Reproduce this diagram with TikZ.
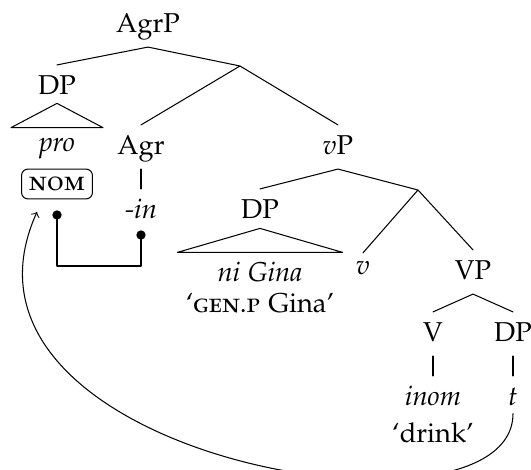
\documentclass[tikz,border=0pt]{standalone}
\usepackage[T1]{fontenc}
\usepackage[sc]{mathpazo}
\tikzset{lab/.style={inner sep=2.8pt, text height=8.5pt, text depth=2.5pt},
	gloss/.style={inner sep=0.5pt, text height=7.5pt, text depth=2.5pt},
	casebox/.style={draw, rounded corners=2.5pt, minimum width=27.3pt, minimum height=11.5pt, inner sep=0pt},
	link/.style={circle, fill, inner sep=0pt, minimum size=3.6pt}}
\begin{document}
\begin{tikzpicture}[x=0.385pt, y=-0.385pt, font=\fontsize{10.5}{12.6}\selectfont, line join=round, line cap=round, >=to]
	\useasboundingbox (0,0) rectangle (531,470);
	% upper part
	\node[lab] (agrp) at (148,25) {AgrP};
	\node[lab] (dpa) at (57,87) {DP};
	\coordinate (agrbar) at (240,66);
	\node[lab] (pro) at (57,144) {\textit{pro}};
	\node[casebox] (nom) at (57,184) {\textsc{nom}};
	\node[lab] (agr) at (141,147) {Agr};
	\node[lab] (in) at (141,211) {\textit{-in}};
	\node[link] (ldot) at (57,215) {};
	\node[link] (rdot) at (141,235) {};
	\coordinate (linkb) at (57,266);
	\node[lab] (vp) at (338,147) {\textit{v}P};
	\draw (agrp.south)--(dpa.north) (agrp.south)--(agrbar)--(agr.north) (agrbar)--(vp.north);
	\draw ([yshift=2.2pt]dpa.south)--([xshift=-17.7pt,yshift=-2.2pt]pro.north)--([xshift=17.7pt,yshift=-2.2pt]pro.north)--cycle;
	\draw (agr.south)--(in.north);
	\draw (ldot.center)--(linkb)-|(rdot.center);
	% vP
	\node[lab] (dpb) at (260,211) {DP};
	\coordinate (vbar) at (418,190);
	\node[gloss] (nigina) at (260,275.5) {\textit{ni Gina}};
	\node[gloss] (glossa) at (260,306.5) {`\textsc{gen.p} Gina'};
	\node[lab, text height=5.5pt] (v) at (363,271) {\textit{v}};
	\node[lab] (vpp) at (473,272) {VP};
	\draw (vp.south)--(dpb.north) (vp.south)--(vbar)--(v.north) (vbar)--(vpp.north);
	\draw ([yshift=1.8pt]dpb.south)--([xshift=-31.8pt,yshift=3.2pt]nigina.north)--([xshift=31.8pt,yshift=3.2pt]nigina.north)--cycle;
	% VP
	\node[lab] (verb) at (433,334) {V};
	\node[lab] (dpc) at (513,334) {DP};
	\node[lab] (inom) at (433,398) {\textit{inom}};
	\node[gloss] (glossb) at (433,436.5) {`drink'};
	\node[lab] (trace) at (513,398) {\textit{t}};
	\draw (vpp.south)--(verb.north) (vpp.south)--(dpc.north);
	\draw (verb.south)--(inom.north) (dpc.south)--(trace.north);
	% movement
	\coordinate (nomtip) at (37,212);
	\draw[->] ([yshift=2.5pt]trace.south) .. controls (513,555) and (-75,460) .. (nomtip);
\end{tikzpicture}
\end{document}
